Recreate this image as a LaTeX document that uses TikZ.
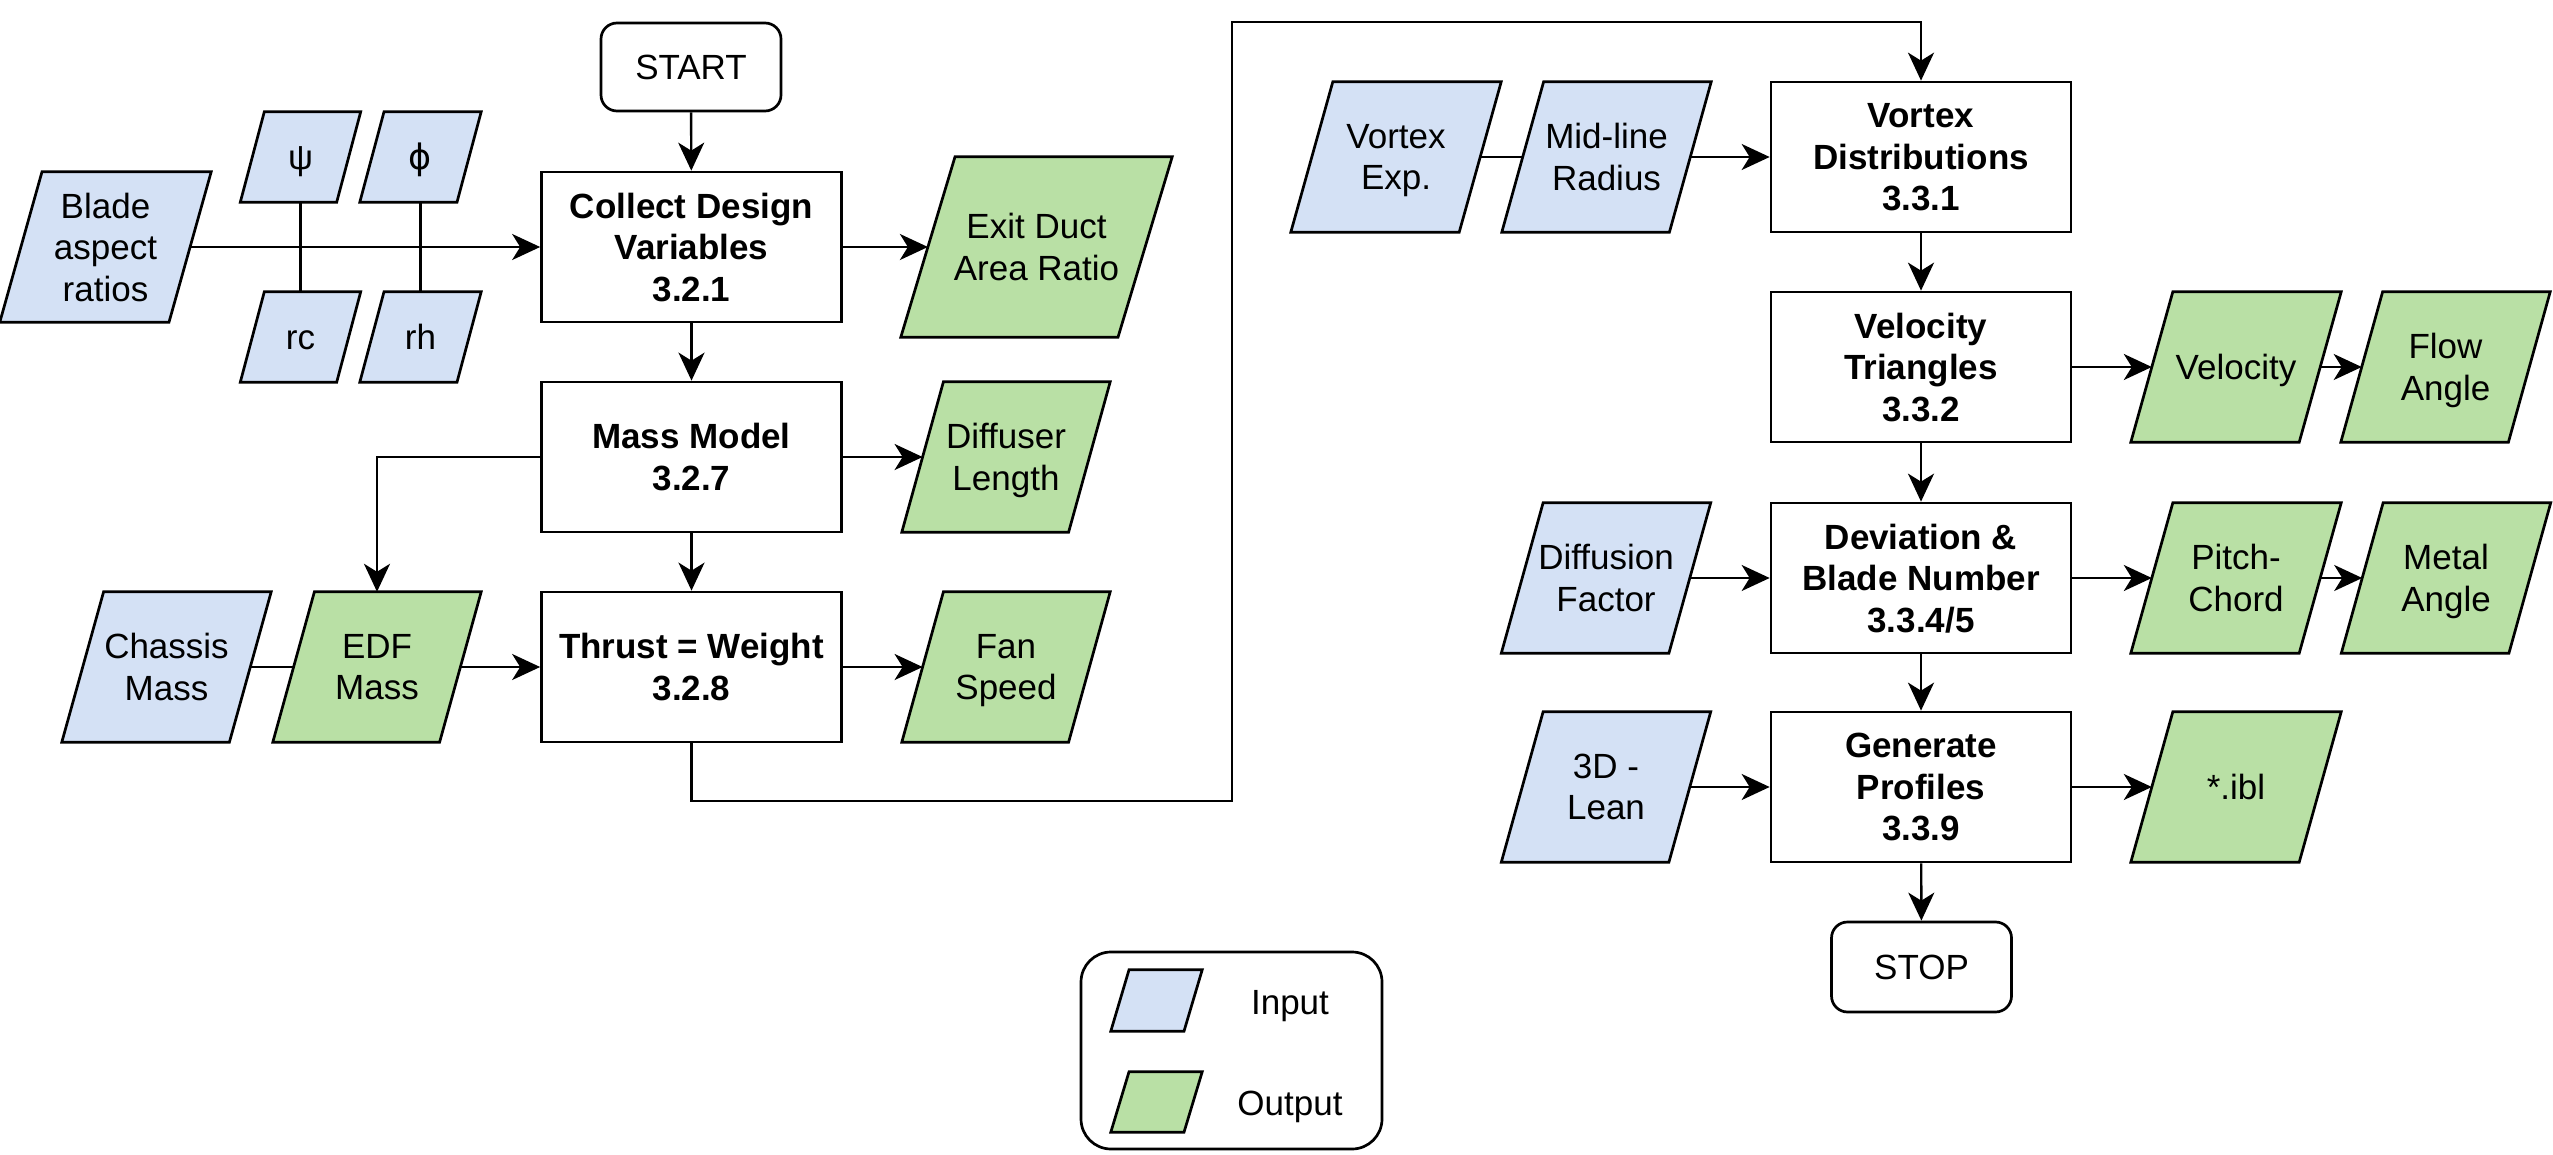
\documentclass[tikz,border=0pt]{standalone}
\usepackage{fontspec}
\setmainfont{Liberation Sans}
\newfontfamily\greekfont{DejaVu Sans}
\usetikzlibrary{arrows.meta,calc}
\definecolor{infill}{HTML}{D4E1F5}
\definecolor{outfill}{HTML}{B9E0A5}
\pgfdeclarelayer{bg}
\pgfsetlayers{bg,main}
\tikzset{
  boxline/.style={draw=black, line width=2.7pt, line join=miter},
  txt/.style={inner sep=0pt, align=center, text depth=0pt, font=\fontsize{35}{41.5}\selectfont},
  one/.style={text height=25pt},
  procbox/.style={boxline, fill=white, minimum width=300, minimum height=150, inner sep=0pt,
    align=center, text depth=0pt, font=\bfseries\fontsize{35}{41.5}\selectfont},
  termbox/.style={boxline, fill=white, rounded corners=16, minimum width=180, minimum height=88,
    inner sep=0pt, text height=25pt, text depth=0pt, font=\fontsize{35}{41.5}\selectfont},
  conn/.style={line width=2.4pt, -{Stealth[length=28pt,width=26pt,inset=8pt]}},
  plainline/.style={line width=2.4pt},
}
% #1 name, #2 centre, #3 total width, #4 height, #5 fill, #6 extra options, #7 text
\newcommand\para[7]{%
  \node[txt, minimum width={0.8*#3}, minimum height={#4}, #6] (#1) at #2 {#7};
  \begin{pgfonlayer}{bg}
    \draw[boxline, fill=#5]
      ([xshift={0.1*#3}]#1.north west) -- ([xshift={0.1*#3}]#1.north east) --
      ([xshift={-0.1*#3}]#1.south east) -- ([xshift={-0.1*#3}]#1.south west) -- cycle;
  \end{pgfonlayer}}
\begin{document}
\begin{tikzpicture}[x=1pt,y=-1pt]
\useasboundingbox (0,0) rectangle (2553,1155);

% ---------- left part ----------
\node[termbox] (start) at (691,67) {START};
\node[procbox] (collect) at (691.5,247) {Collect Design\\Variables\\3.2.1};
\para{blade}{(105.5,247)}{211}{150}{infill}{}{Blade\\aspect\\ratios}
\para{psi}{(300.5,157)}{120}{90}{infill}{one}{ψ}
\para{phi}{(420.5,157)}{121}{90}{infill}{one}{{\greekfont ϕ}}
\para{rc}{(300.5,337)}{120}{90}{infill}{one}{rc}
\para{rh}{(420.5,337)}{121}{90}{infill}{one}{rh}
\para{exit}{(1036.5,247)}{271}{180}{outfill}{}{Exit Duct\\Area Ratio}

\node[procbox] (mass) at (691.5,457) {Mass Model\\3.2.7};
\para{diffuser}{(1006,457)}{208}{150}{outfill}{}{Diffuser\\Length}

\node[procbox] (thrust) at (691.5,667) {Thrust = Weight\\3.2.8};
\para{chassis}{(166.5,667)}{209}{150}{infill}{}{Chassis\\Mass}
\para{edf}{(377,667)}{208}{150}{outfill}{}{EDF\\Mass}
\para{fan}{(1006,667)}{208}{150}{outfill}{}{Fan\\Speed}

% ---------- right part ----------
\node[procbox] (vdist) at (1921,157) {Vortex\\Distributions\\3.3.1};
\para{vexp}{(1396,157)}{210}{150}{infill}{}{Vortex\\Exp.}
\para{midline}{(1606.5,157)}{209}{150}{infill}{}{Mid-line\\Radius}

\node[procbox] (vtri) at (1921,367) {Velocity\\Triangles\\3.3.2};
\para{velocity}{(2236,367)}{210}{150}{outfill}{one}{Velocity}
\para{flow}{(2445.5,367)}{209}{150}{outfill}{}{Flow\\Angle}

\node[procbox] (dev) at (1921,578) {Deviation \&\\Blade Number\\3.3.4/5};
\para{diffusion}{(1606,578)}{209}{150}{infill}{}{Diffusion\\Factor}
\para{pitch}{(2236,578)}{210}{150}{outfill}{}{Pitch-\\Chord}
\para{metal}{(2446,578)}{209}{150}{outfill}{}{Metal\\Angle}

\node[procbox] (gen) at (1921,787) {Generate\\Profiles\\3.3.9};
\para{lean}{(1606,787)}{209}{150}{infill}{}{3D -\\Lean}
\para{ibl}{(2236,787)}{210}{150}{outfill}{one}{*.ibl}

\node[termbox, minimum height=90] (stop) at (1921.5,967) {STOP};

% ---------- legend ----------
\node[boxline, rounded corners=30, minimum width=301, minimum height=197, inner sep=0pt] (legend) at (1231.5,1050.5) {};
\para{lin}{(1156.5,1000.5)}{91}{61}{infill}{}{}
\para{lout}{(1156.5,1102)}{91}{60}{outfill}{}{}
\node[txt, one] (tin) at (1290,1002) {Input};
\node[txt, one] (tout) at (1290,1103) {Output};

% ---------- connectors ----------
\draw[conn] (start) -- (collect);
\draw[conn] (blade.east) -- (collect.west);
\draw[plainline] (psi.south) -- (rc.north);
\draw[plainline] (phi.south) -- (rh.north);
\draw[conn] (collect.east) -- (exit.west);
\draw[conn] (collect) -- (mass);
\draw[conn] (mass.east) -- (diffuser.west);
\draw[conn] (mass.west) -| (edf.north);
\draw[conn] (mass) -- (thrust);
\draw[plainline] (chassis.east) -- (edf.west);
\draw[conn] (edf.east) -- (thrust.west);
\draw[conn] (thrust.east) -- (fan.west);

\coordinate (turnA) at (1232,801);
\coordinate (turnB) at (1232,22);
\draw[conn] (thrust.south) |- (turnA) -- (turnB) -| (vdist.north);

\draw[plainline] (vexp.east) -- (midline.west);
\draw[conn] (midline.east) -- (vdist.west);
\draw[conn] (vdist) -- (vtri);
\draw[conn] (vtri.east) -- (velocity.west);
\draw[conn] (velocity.east) -- (flow.west);
\draw[conn] (vtri) -- (dev);
\draw[conn] (diffusion.east) -- (dev.west);
\draw[conn] (dev.east) -- (pitch.west);
\draw[conn] (pitch.east) -- (metal.west);
\draw[conn] (dev) -- (gen);
\draw[conn] (lean.east) -- (gen.west);
\draw[conn] (gen.east) -- (ibl.west);
\draw[conn] (gen) -- (stop);
\end{tikzpicture}
\end{document}
